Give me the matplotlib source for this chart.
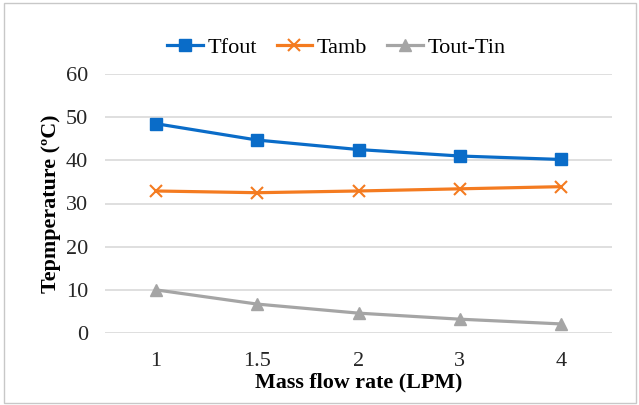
import matplotlib.pyplot as plt
from matplotlib.patches import Rectangle

flow_rates = ['1', '1.5', '2', '3', '4']
t_fout = [48.5, 44.7, 42.5, 41.0, 40.2]
t_amb = [32.9, 32.5, 32.9, 33.4, 33.9]
t_diff = [10.0, 6.7, 4.6, 3.2, 2.1]

plt.rcParams['font.family'] = ['Liberation Serif', 'DejaVu Serif']

fig = plt.figure(figsize=(6.39, 4.05), dpi=100)
ax = fig.add_axes([105 / 639, 1 - 333 / 405, 507 / 639, 259 / 405])

x = range(len(flow_rates))
ax.plot(x, t_fout, color='#0a6cc8', lw=2.3, marker='s', ms=8.5, label='Tfout')
ax.plot(x, t_amb, color='#f47b20', lw=2.3, marker='x', ms=8, mew=1.5, label='Tamb')
ax.plot(x, t_diff, color='#a5a5a5', lw=2.3, marker='^', ms=8, label='Tout-Tin')

ax.set_xlim(-0.5, len(flow_rates) - 0.5)
ax.set_ylim(0, 60)
ax.set_yticks(range(0, 61, 10))
ax.set_xticks(list(x))
ax.set_xticklabels(flow_rates)
ax.yaxis.grid(True, color='#d9d9d9', lw=1.2)
ax.set_axisbelow(True)
for s in ax.spines.values():
    s.set_visible(False)
ax.tick_params(length=0, labelsize=16, colors='#262626')
ax.tick_params(axis='y', pad=12)
ax.tick_params(axis='x', pad=14)

ax.set_xlabel('Mass flow rate (LPM)', fontsize=15.8, fontweight='bold', labelpad=1)
ax.set_ylabel('Tepmperature (ºC)', fontsize=15.8, fontweight='bold', labelpad=4)

# legend sits a bit left of the axes centre in the original
ax.legend(loc='lower center', bbox_to_anchor=(0.456, 0.985), ncol=3, frameon=False,
          fontsize=16, handlelength=1.6, handletextpad=0.2, columnspacing=0.9)

fig.patches.append(Rectangle((4 / 639, 2 / 405), 632 / 639, 400 / 405, transform=fig.transFigure,
                             fill=False, edgecolor='#c8c8c8', lw=1))

fig.savefig('out.png', dpi=100)
